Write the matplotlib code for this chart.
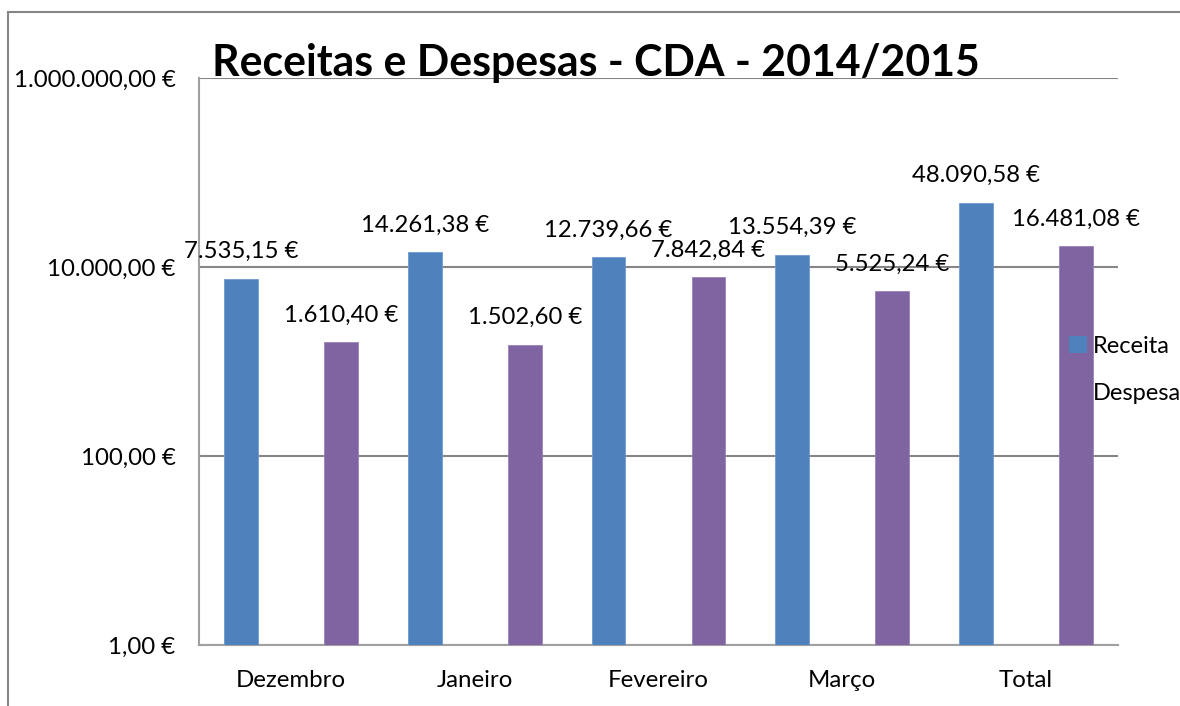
import matplotlib
matplotlib.use("Agg")
import matplotlib.pyplot as plt
from matplotlib.patches import Rectangle
import numpy as np

# data
meses = ["Dezembro", "Janeiro", "Fevereiro", "Março", "Total"]
receita = [7535.15, 14261.38, 12739.66, 13554.39, 48090.58]
despesa = [1610.40, 1502.60, 7842.84, 5525.24, 16481.08]
y_ticks = [1, 100, 10000, 1000000]

AZUL = "#4F81BD"
ROXO = "#8064A2"
CINZA = "#868686"

plt.rcParams["font.family"] = ["Lato", "DejaVu Sans"]


def euro(v):
    s = f"{v:,.2f}".replace(",", "X").replace(".", ",").replace("X", ".")
    return s + " €"


W, H = 1180, 706
fig = plt.figure(figsize=(W / 100, H / 100), dpi=100)
ax = fig.add_axes([199 / W, 1 - 645 / H, (1118 - 199) / W, (645 - 78) / H])

x = np.arange(len(meses))
off = 0.272
bw = 0.183
b1 = ax.bar(x - off, receita, bw, color=AZUL, edgecolor="#6f9bd0", linewidth=0.6,
            label="Receita", zorder=3)
b2 = ax.bar(x + off, despesa, bw, color=ROXO, edgecolor="#9a82b8", linewidth=0.6,
            label="Despesa", zorder=3)

for bars, vals in ((b1, receita), (b2, despesa)):
    for rect, v in zip(bars, vals):
        ax.annotate(euro(v), (rect.get_x() + rect.get_width() / 2, v),
                    xytext=(0, 27), textcoords="offset pixels",
                    ha="center", va="center", fontsize=17.2, zorder=5)

ax.set_yscale("log")
ax.set_ylim(1, 1e6)
ax.set_xlim(-0.5, len(meses) - 0.5)
ax.set_yticks(y_ticks)
ax.set_yticklabels([euro(t) for t in y_ticks])
ax.yaxis.set_minor_locator(matplotlib.ticker.NullLocator())
ax.set_xticks(x)
ax.set_xticklabels(meses)
ax.tick_params(axis="both", length=0, labelsize=17.3)
ax.tick_params(axis="y", pad=17)
ax.tick_params(axis="x", pad=18)

ax.grid(axis="y", color=CINZA, linewidth=1.5, zorder=0)
ax.set_axisbelow(True)
for side in ("top", "right"):
    ax.spines[side].set_visible(False)
for side in ("left", "bottom"):
    ax.spines[side].set_color("#a0a0a0")
    ax.spines[side].set_linewidth(1.5)

fig.text(596 / W, 1 - 76 / H, "Receitas e Despesas - CDA - 2014/2015",
         ha="center", va="baseline", fontsize=30.8, fontweight="bold")

leg = ax.legend(loc="center left", bbox_to_anchor=(1057 / W, 1 - 370 / H),
                bbox_transform=fig.transFigure, frameon=False, fontsize=17,
                handlelength=0.75, handleheight=0.75, handletextpad=0.25,
                labelspacing=1.1, borderpad=0)
for h in leg.legend_handles:
    h.set_edgecolor("none")

# outer chart border
fig.patches.append(Rectangle((8 / W, -0.1), 1.2, 1.1 - 12 / H, fill=False,
                             edgecolor=CINZA, linewidth=1.5,
                             transform=fig.transFigure, figure=fig))

fig.savefig("out.png", dpi=100)
